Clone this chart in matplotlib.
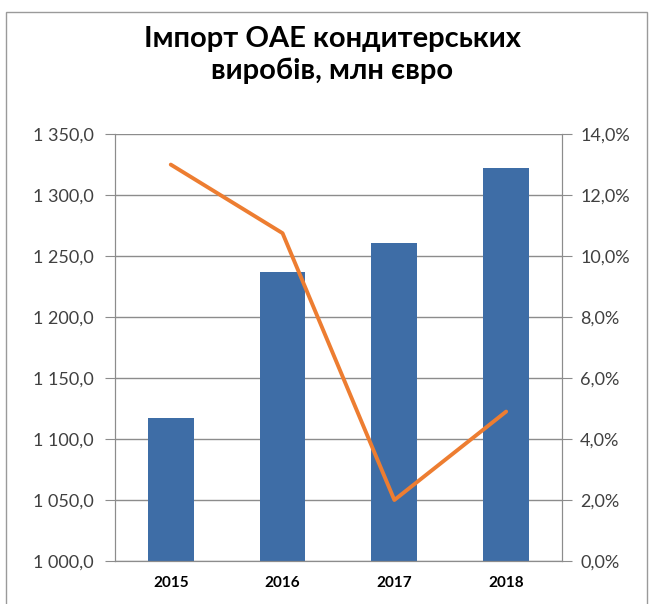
import matplotlib.pyplot as plt
from matplotlib.patches import Rectangle
from matplotlib.ticker import FuncFormatter, MultipleLocator

years = ["2015", "2016", "2017", "2018"]
imports = [1117.2, 1236.6, 1260.7, 1322.1]   # млн євро
growth = [13.0, 10.75, 2.0, 4.9]             # %

plt.rcParams['font.family'] = ['Lato', 'DejaVu Sans']

fig = plt.figure(figsize=(6.49, 6.04), dpi=100)
ax = fig.add_axes([0.177, 0.0712, 0.689, 0.7068])
ax2 = ax.twinx()

x = range(len(years))
ax.bar(x, imports, width=0.41, color='#3E6DA6', zorder=2)
ax2.plot(x, growth, color='#ED7D31', linewidth=2.8, solid_capstyle='round', zorder=3)

ax.set_ylim(1000, 1350)
ax.yaxis.set_major_locator(MultipleLocator(50))
ax.yaxis.set_major_formatter(FuncFormatter(
    lambda v, p: "{:,.1f}".format(v).replace(",", " ").replace(".", ",")))
ax2.set_ylim(0, 14)
ax2.yaxis.set_major_locator(MultipleLocator(2))
ax2.yaxis.set_major_formatter(FuncFormatter(lambda v, p: "{:.1f}%".format(v).replace(".", ",")))

ax.set_xlim(-0.5, 3.5)
ax.set_xticks(list(x))
ax.set_xticklabels(years, fontweight='bold', fontsize=11)
ax.tick_params(axis='x', length=0, pad=11)

ax.grid(axis='y', color='#8c8c8c', linewidth=1, zorder=0)
ax.set_axisbelow(True)
for a in (ax, ax2):
    a.spines['top'].set_visible(False)
    a.spines['left'].set_color('#8c8c8c')
    a.spines['right'].set_color('#8c8c8c')
    a.spines['bottom'].set_color('#8c8c8c')
ax.tick_params(axis='y', length=7, color='#8c8c8c', labelsize=13, labelcolor='#404040', pad=8)
ax2.tick_params(axis='y', length=7, color='#8c8c8c', labelsize=13, labelcolor='#404040', pad=6)

fig.text(0.512, 0.909, "Імпорт ОАЕ кондитерських\nвиробів, млн євро",
         ha='center', va='center', fontsize=21, fontweight='bold', linespacing=1.25)

fig.patches.append(Rectangle((0.009, -0.01), 0.988, 0.99, transform=fig.transFigure,
                             fill=False, edgecolor='#9a9a9a', linewidth=1))

fig.savefig("out.png", dpi=100)
